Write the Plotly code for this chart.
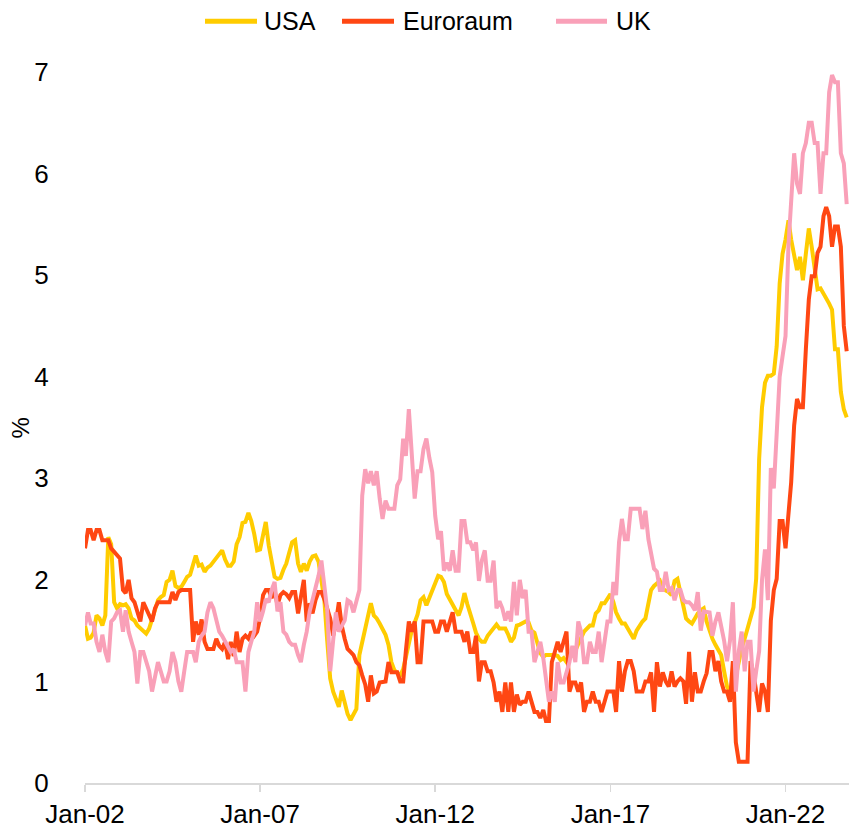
import pandas as pd
import plotly.graph_objects as go

# Monthly data, Jan 2002 - Oct 2023 (core inflation, % y/y)
start_month = "2002-01-01"
n_months = 262

usa = [
    1.55, 1.42, 1.43, 1.48, 1.65, 1.62, 1.55, 1.65, 2.42, 2.35, 1.78, 1.72,  # 2002
    1.76, 1.75, 1.76, 1.72, 1.62, 1.60, 1.55, 1.52, 1.50, 1.47, 1.52, 1.62,  # 2003
    1.70, 1.80, 1.83, 1.85, 1.98, 2.00, 2.09, 1.94, 1.92, 1.93, 1.98, 2.03,  # 2004
    2.05, 2.16, 2.24, 2.14, 2.15, 2.08, 2.12, 2.14, 2.18, 2.22, 2.26, 2.29,  # 2005
    2.20, 2.14, 2.14, 2.18, 2.35, 2.42, 2.56, 2.57, 2.66, 2.58, 2.45, 2.29,  # 2006
    2.30, 2.45, 2.57, 2.34, 2.18, 2.03, 2.01, 2.02, 2.10, 2.16, 2.27, 2.37,  # 2007
    2.39, 2.16, 2.08, 2.16, 2.09, 2.18, 2.23, 2.24, 2.18, 2.02, 1.80, 1.40,  # 2008
    1.03, 0.90, 0.82, 0.75, 0.91, 0.77, 0.68, 0.62, 0.67, 0.73, 1.26, 1.39,  # 2009
    1.50, 1.66, 1.77, 1.65, 1.62, 1.57, 1.52, 1.46, 1.36, 1.19, 1.11, 1.09,  # 2010
    1.06, 1.12, 1.25, 1.40, 1.50, 1.58, 1.66, 1.80, 1.83, 1.75, 1.82, 1.90,  # 2011
    1.96, 2.04, 2.03, 1.98, 1.86, 1.81, 1.76, 1.70, 1.65, 1.73, 1.87, 1.76,  # 2012
    1.65, 1.57, 1.48, 1.42, 1.39, 1.39, 1.45, 1.49, 1.52, 1.56, 1.52, 1.52,  # 2013
    1.52, 1.46, 1.39, 1.43, 1.55, 1.56, 1.58, 1.59, 1.58, 1.50, 1.48, 1.38,  # 2014
    1.28, 1.24, 1.26, 1.26, 1.26, 1.26, 1.25, 1.21, 1.23, 1.19, 1.23, 1.27,  # 2015
    1.30, 1.37, 1.44, 1.49, 1.52, 1.55, 1.55, 1.67, 1.70, 1.77, 1.77, 1.82,  # 2016
    1.86, 1.78, 1.68, 1.62, 1.57, 1.57, 1.52, 1.46, 1.42, 1.50, 1.55, 1.59,  # 2017
    1.62, 1.75, 1.90, 1.94, 1.97, 1.99, 1.91, 1.90, 1.88, 1.85, 1.99, 2.01,  # 2018
    1.88, 1.78, 1.62, 1.59, 1.57, 1.62, 1.67, 1.70, 1.72, 1.59, 1.49, 1.42,  # 2019
    1.36, 1.30, 1.26, 1.10, 0.95, 0.90, 0.93, 1.05, 1.22, 1.33, 1.42, 1.52,  # 2020
    1.65, 1.73, 2.01, 3.19, 3.70, 3.94, 4.01, 4.01, 4.03, 4.30, 4.92, 5.21,  # 2021
    5.35, 5.54, 5.35, 5.20, 5.05, 5.18, 4.95, 5.21, 5.46, 5.28, 5.05, 4.86,  # 2022
    4.87, 4.82, 4.78, 4.72, 4.66, 4.27, 4.27, 3.85, 3.68, 3.60,              # 2023
]

euroraum = [
    2.31, 2.49, 2.49, 2.39, 2.49, 2.49, 2.39, 2.39, 2.39, 2.31, 2.28, 2.25,  # 2002
    2.21, 1.90, 1.87, 2.00, 1.82, 1.78, 1.70, 1.59, 1.78, 1.72, 1.65, 1.59,  # 2003
    1.72, 1.78, 1.78, 1.78, 1.78, 1.78, 1.88, 1.80, 1.88, 1.90, 1.90, 1.90,  # 2004
    1.90, 1.39, 1.59, 1.46, 1.61, 1.39, 1.32, 1.32, 1.32, 1.42, 1.35, 1.32,  # 2005
    1.39, 1.22, 1.39, 1.25, 1.49, 1.29, 1.42, 1.45, 1.42, 1.49, 1.45, 1.49,  # 2006
    1.62, 1.85, 1.90, 1.90, 1.82, 1.90, 1.75, 1.85, 1.88, 1.86, 1.82, 1.88,  # 2007
    1.88, 1.67, 1.82, 2.00, 1.59, 1.77, 1.67, 1.80, 1.88, 1.88, 1.81, 1.72,  # 2008
    1.62, 1.45, 1.57, 1.78, 1.55, 1.42, 1.32, 1.29, 1.26, 1.19, 1.16, 1.06,  # 2009
    0.97, 0.80, 1.06, 0.88, 0.90, 0.99, 1.00, 1.00, 1.19, 1.09, 1.09, 1.09,  # 2010
    1.00, 1.00, 1.30, 1.59, 1.49, 1.59, 1.19, 1.19, 1.59, 1.59, 1.59, 1.59,  # 2011
    1.49, 1.49, 1.59, 1.59, 1.49, 1.59, 1.68, 1.49, 1.49, 1.49, 1.39, 1.49,  # 2012
    1.29, 1.29, 1.45, 1.00, 1.19, 1.19, 1.10, 1.10, 0.99, 0.80, 0.90, 0.70,  # 2013
    0.99, 0.70, 0.99, 0.70, 0.87, 0.77, 0.80, 0.80, 0.90, 0.79, 0.70, 0.70,  # 2014
    0.64, 0.72, 0.61, 0.61, 1.19, 1.29, 1.39, 1.29, 1.39, 1.49, 0.90, 0.99,  # 2015
    0.99, 0.90, 0.99, 0.70, 0.80, 0.80, 0.90, 0.80, 0.80, 0.70, 0.80, 0.90,  # 2016
    0.90, 0.90, 0.70, 1.20, 0.90, 1.10, 1.20, 1.20, 1.10, 0.90, 0.90, 0.90,  # 2017
    1.00, 1.00, 1.09, 0.70, 1.19, 0.95, 1.09, 1.00, 0.95, 1.10, 0.95, 1.00,  # 2018
    1.03, 1.00, 0.78, 1.29, 0.80, 1.09, 0.90, 0.90, 1.00, 1.08, 1.29, 1.29,  # 2019
    1.10, 1.20, 1.00, 0.90, 0.90, 0.80, 1.20, 0.40, 0.21, 0.21, 0.21, 0.21,  # 2020
    1.20, 1.08, 0.90, 0.70, 0.98, 0.90, 0.70, 1.60, 1.90, 2.01, 2.58, 2.58,  # 2021
    2.31, 2.70, 2.96, 3.52, 3.78, 3.70, 3.70, 4.27, 4.76, 4.99, 4.99, 5.22,  # 2022
    5.28, 5.58, 5.67, 5.58, 5.28, 5.48, 5.48, 5.28, 4.50, 4.25,              # 2023
]

uk = [
    1.55, 1.68, 1.57, 1.57, 1.39, 1.29, 1.46, 1.29, 1.19, 1.59, 1.62, 1.68,  # 2002
    1.70, 1.49, 1.70, 1.49, 1.39, 1.29, 0.98, 1.29, 1.29, 1.19, 1.10, 0.90,  # 2003
    1.05, 1.19, 1.10, 1.00, 1.00, 1.10, 1.29, 1.19, 1.00, 0.90, 1.10, 1.29,  # 2004
    1.29, 1.29, 1.19, 1.39, 1.45, 1.49, 1.68, 1.78, 1.72, 1.62, 1.49, 1.45,  # 2005
    1.39, 1.35, 1.29, 1.32, 1.19, 1.19, 1.19, 0.90, 1.29, 1.39, 1.49, 1.78,  # 2006
    1.59, 1.69, 1.81, 1.78, 1.90, 1.98, 1.69, 1.78, 1.49, 1.46, 1.39, 1.36,  # 2007
    1.36, 1.26, 1.19, 1.36, 1.49, 1.69, 1.80, 1.95, 2.04, 2.19, 1.94, 1.70,  # 2008
    1.10, 1.46, 1.68, 1.49, 1.55, 1.60, 1.80, 1.78, 1.68, 1.78, 1.90, 2.83,  # 2009
    3.09, 2.95, 3.07, 2.93, 3.07, 2.80, 2.60, 2.78, 2.70, 2.70, 2.70, 2.93,  # 2010
    2.99, 3.39, 3.22, 3.68, 3.25, 2.80, 3.07, 3.07, 3.29, 3.39, 3.20, 3.06,  # 2011
    2.63, 2.40, 2.48, 2.09, 2.17, 2.09, 2.29, 2.09, 2.09, 2.58, 2.58, 2.37,  # 2012
    2.37, 2.29, 2.37, 1.99, 2.19, 2.29, 1.99, 1.99, 2.19, 1.72, 1.79, 1.72,  # 2013
    1.60, 1.69, 1.59, 1.98, 1.65, 2.00, 1.82, 1.90, 1.49, 1.49, 1.19, 1.30,  # 2014
    1.39, 1.23, 0.99, 0.80, 0.90, 0.80, 1.19, 0.99, 0.99, 1.10, 1.19, 1.35,  # 2015
    1.19, 1.59, 1.49, 1.19, 1.19, 1.39, 1.29, 1.29, 1.49, 1.19, 1.39, 1.59,  # 2016
    1.59, 1.98, 1.85, 2.37, 2.60, 2.40, 2.40, 2.70, 2.70, 2.70, 2.70, 2.50,  # 2017
    2.68, 2.40, 2.28, 2.11, 2.08, 1.90, 1.90, 2.08, 1.90, 1.92, 1.80, 1.90,  # 2018
    1.90, 1.80, 1.78, 1.78, 1.75, 1.70, 1.88, 1.50, 1.69, 1.68, 1.68, 1.45,  # 2019
    1.59, 1.68, 1.55, 1.40, 1.20, 1.40, 1.78, 0.90, 1.30, 1.49, 1.10, 1.39,  # 2020
    1.39, 0.90, 1.10, 1.30, 2.00, 2.30, 1.80, 3.10, 2.90, 3.40, 4.00, 4.20,  # 2021
    4.40, 5.30, 5.70, 6.20, 5.90, 5.80, 6.20, 6.30, 6.50, 6.50, 6.30, 6.30,  # 2022
    5.80, 6.20, 6.20, 6.80, 6.97, 6.90, 6.90, 6.20, 6.10, 5.70,              # 2023
]

series_names = ["USA", "Euroraum", "UK"]
y_ticks = [0, 1, 2, 3, 4, 5, 6, 7]

dates = pd.date_range(start_month, periods=n_months, freq="MS")

colors = {"USA": "#FFCC00", "Euroraum": "#FF4713", "UK": "#F9A0B8"}
values = {"USA": usa, "Euroraum": euroraum, "UK": uk}

fig = go.Figure()
for name in series_names:
    fig.add_trace(go.Scatter(
        x=dates, y=values[name], mode="lines", name=name,
        line=dict(color=colors[name], width=4),
        showlegend=False,
    ))

font_family = "Liberation Sans, Arial, sans-serif"

# The page body margin is removed (post_script), so figure pixels = window pixels.
W, H = 849, 829
ML, MR, MT, MB = 85, 0, 72, 43
plot_w = W - ML - MR
plot_h = H - MT - MB


def px_x(X):
    # window x-pixel -> paper coordinate
    return (X - ML) / plot_w


def px_y(Y):
    return (H - MB - Y) / plot_h


# Legend drawn as line swatches + labels across the top
legend_items = [("USA", 205, 257, 262), ("Euroraum", 342, 394, 401), ("UK", 556, 607, 614)]
legend_y = 21
shapes = []
annotations = []
for name, x0, x1, xt in legend_items:
    shapes.append(dict(
        type="line", xref="paper", yref="paper",
        x0=px_x(x0), x1=px_x(x1), y0=px_y(legend_y), y1=px_y(legend_y),
        line=dict(color=colors[name], width=5),
    ))
    annotations.append(dict(
        text=name, xref="paper", yref="paper",
        x=px_x(xt), y=px_y(legend_y), xanchor="left", yanchor="middle",
        showarrow=False, font=dict(size=25, family=font_family, color="#000000"),
    ))

annotations.append(dict(
    text="%", xref="paper", yref="paper",
    x=px_x(20), y=px_y(430), xanchor="center", yanchor="middle",
    textangle=-90, showarrow=False,
    font=dict(size=24, family=font_family, color="#000000"),
))

fig.update_layout(
    width=W, height=H,
    margin=dict(l=ML, r=MR, t=MT, b=MB),
    paper_bgcolor="white", plot_bgcolor="white",
    font=dict(family=font_family, color="#000000"),
    showlegend=False,
    hovermode=False,
    xaxis=dict(
        type="date",
        range=["2002-01-01", "2023-10-25"],
        tick0="2002-01-01", dtick="M60", tickformat="%b-%y",
        showgrid=False, zeroline=False,
        showline=True, linecolor="#D9D9D9", linewidth=2,
        ticks="outside", ticklen=7, tickcolor="#D9D9D9", tickwidth=1.5,
        tickfont=dict(size=26, family=font_family),
    ),
    yaxis=dict(
        range=[0, 7], tickvals=y_ticks,
        showgrid=False, zeroline=False, showline=False,
        ticks="outside", ticklen=30, tickcolor="rgba(0,0,0,0)",
        tickfont=dict(size=26, family=font_family),
    ),
    shapes=shapes,
    annotations=annotations,
)

fig.write_html(
    "out.html",
    config={"displayModeBar": False, "staticPlot": True},
    post_script="document.body.style.margin='0';document.body.style.overflow='hidden';",
)
